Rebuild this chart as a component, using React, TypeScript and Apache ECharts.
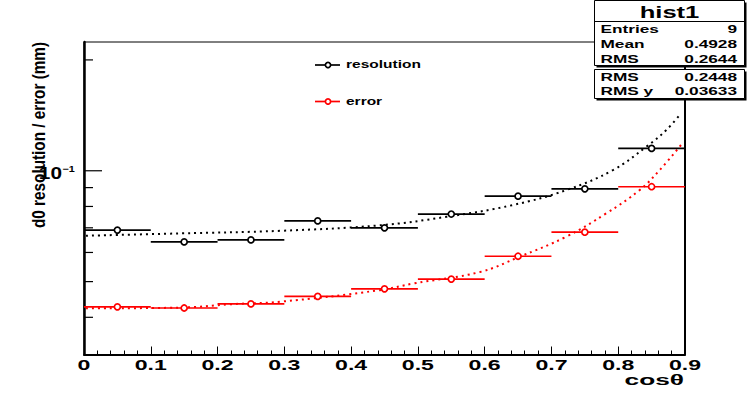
import React, { useEffect, useRef } from 'react';
import * as echarts from 'echarts';

// ---------- data ----------
const BIN_WIDTH = 0.1;
const BIN_CENTERS = [0.05, 0.15, 0.25, 0.35, 0.45, 0.55, 0.65, 0.75, 0.85];
const RESOLUTION = [0.069, 0.0641, 0.0649, 0.0731, 0.07, 0.0763, 0.0853, 0.0893, 0.115];
const ERROR = [0.0427, 0.0424, 0.0435, 0.0456, 0.0478, 0.0508, 0.0586, 0.0681, 0.0905];

const RES_FIT_X = [0.003, 0.144, 0.294, 0.443, 0.543, 0.642, 0.722, 0.792, 0.842, 0.872, 0.894];
const RES_FIT_Y = [0.0666, 0.0676, 0.0687, 0.0711, 0.075, 0.0807, 0.0886, 0.1004, 0.1162, 0.129, 0.1432];
const ERR_FIT_X = [0.003, 0.144, 0.219, 0.294, 0.443, 0.493, 0.593, 0.652, 0.722, 0.782, 0.832, 0.862, 0.894];
const ERR_FIT_Y = [0.0423, 0.0425, 0.0434, 0.0441, 0.0474, 0.0494, 0.0531, 0.0584, 0.0662, 0.0766, 0.0886, 0.1004, 0.1175];

const X_MIN = 0;
const X_MAX = 0.9;
const X_TICKS = [0, 0.1, 0.2, 0.3, 0.4, 0.5, 0.6, 0.7, 0.8, 0.9];
const X_LABELS = ['0', '0.1', '0.2', '0.3', '0.4', '0.5', '0.6', '0.7', '0.8', '0.9'];

const Y_MIN = 0.0317;
const Y_MAX = 0.2237;
const Y_TICKS = [0.04, 0.05, 0.06, 0.07, 0.08, 0.09, 0.1, 0.2];
const Y_MAJOR = [0.1];

const STATS_TITLE = 'hist1';
const STATS_ROWS_1 = [
  ['Entries', '9'],
  ['Mean', '0.4928'],
  ['RMS', '0.2644'],
];
const STATS_ROWS_2 = [
  ['RMS', '0.2448'],
  ['RMS y', '0.03633'],
];
const LEGEND = [
  { name: 'resolution', color: '#000000' },
  { name: 'error', color: '#ff0000' },
];

// ---------- styles ----------
const FONT = '"Liberation Sans", Arial, Helvetica, sans-serif';
const SX = 1.55;

function txt(text: string, x: number, y: number, size: number, align: string, opts: any = {}) {
  return {
    type: 'text',
    x,
    y,
    scaleX: opts.scaleX ?? SX,
    scaleY: opts.scaleY ?? 1,
    rotation: opts.rotation ?? 0,
    z: 100,
    style: {
      text,
      font: `${opts.weight ?? 'bold'} ${size}px ${FONT}`,
      fill: opts.color ?? '#000',
      align,
      textAlign: align,
      verticalAlign: 'middle',
      textVerticalAlign: 'middle',
    },
  };
}

function histSeries(name: string, values: number[], color: string) {
  return {
    name,
    type: 'custom',
    coordinateSystem: 'cartesian2d',
    data: BIN_CENTERS.map((x, i) => [x, values[i]]),
    encode: { x: 0, y: 1 },
    z: 5,
    renderItem: (params: any, api: any) => {
      const x = api.value(0);
      const y = api.value(1);
      const c = api.coord([x, y]);
      const l = api.coord([x - BIN_WIDTH / 2, y]);
      const r = api.coord([x + BIN_WIDTH / 2, y]);
      return {
        type: 'group',
        children: [
          { type: 'line', shape: { x1: l[0], y1: l[1], x2: r[0], y2: r[1] }, style: { stroke: color, lineWidth: 1.7 } },
          { type: 'circle', shape: { cx: c[0], cy: c[1], r: 3 }, style: { fill: '#fff', stroke: color, lineWidth: 1.7 } },
        ],
      };
    },
  };
}

function fitSeries(name: string, xs: number[], ys: number[], color: string) {
  return {
    name,
    type: 'line',
    data: xs.map((x, i) => [x, ys[i]]),
    smooth: 0.4,
    showSymbol: false,
    symbol: 'none',
    z: 4,
    lineStyle: { color, width: 2, type: [2, 4] },
  };
}

function buildOption() {
  const graphics: any[] = [];

  // y-axis title
  graphics.push(
    txt('d0 resolution / error (mm)', 38.5, 42, 15.3, 'right', {
      weight: 'bold',
      scaleX: 1,
      scaleY: 1.15,
      rotation: Math.PI / 2,
    })
  );
  // x-axis title
  graphics.push(txt('cosθ', 684, 380, 15, 'right', { scaleX: 1.75 }));

  // legend
  LEGEND.forEach((it, i) => {
    const y = 65 + i * 36.5;
    graphics.push({ type: 'line', z: 100, shape: { x1: 315, y1: y, x2: 340, y2: y }, style: { stroke: it.color, lineWidth: 1.7 } });
    graphics.push({ type: 'circle', z: 101, shape: { cx: 328, cy: y, r: 2.6 }, style: { fill: '#fff', stroke: it.color, lineWidth: 1.7 } });
    graphics.push(txt(it.name, 346, y, 10, 'left'));
  });

  // stats boxes
  const bx = 594.5;
  const bw = 150;
  const boxes = [
    { y: 0.5, h: 65 },
    { y: 69.5, h: 29 },
  ];
  boxes.forEach((b) => {
    graphics.push({ type: 'rect', z: 90, shape: { x: bx + 2, y: b.y + 2, width: bw, height: b.h }, style: { fill: '#000' } });
    graphics.push({ type: 'rect', z: 91, shape: { x: bx, y: b.y, width: bw, height: b.h }, style: { fill: '#fff', stroke: '#000', lineWidth: 1 } });
  });
  graphics.push({ type: 'line', z: 92, shape: { x1: bx, y1: 21.5, x2: bx + bw, y2: 21.5 }, style: { stroke: '#000', lineWidth: 1 } });
  graphics.push(txt(STATS_TITLE, bx + bw / 2, 12.5, 16, 'center', { scaleX: 1.6 }));
  const rows1Y = [29.3, 44, 58.6];
  STATS_ROWS_1.forEach((r, i) => {
    graphics.push(txt(r[0], 600.5, rows1Y[i], 11.5, 'left', { scaleX: 1.5 }));
    graphics.push(txt(r[1], 737, rows1Y[i], 11.5, 'right', { scaleX: 1.5 }));
  });
  const rows2Y = [77, 91];
  STATS_ROWS_2.forEach((r, i) => {
    graphics.push(txt(r[0], 600.5, rows2Y[i], 11.5, 'left', { scaleX: 1.5 }));
    graphics.push(txt(r[1], 737, rows2Y[i], 11.5, 'right', { scaleX: 1.5 }));
  });

  return {
    animation: false,
    backgroundColor: '#ffffff',
    grid: { left: 84, right: 69, top: 42, bottom: 43.5, show: true, borderColor: '#000', borderWidth: 1, backgroundColor: 'transparent' },
    xAxis: {
      type: 'value',
      min: X_MIN,
      max: X_MAX,
      interval: 0.1,
      axisLine: { show: true, onZero: false, lineStyle: { color: '#000', width: 2 } },
      axisTick: { show: true, inside: true, length: 8, lineStyle: { color: '#000', width: 1 } },
      minorTick: { show: true, splitNumber: 5, length: 4, lineStyle: { color: '#000', width: 1 } },
      axisLabel: { show: false },
      splitLine: { show: false },
    },
    yAxis: [
      {
        type: 'log',
        logBase: 10,
        min: Y_MIN,
        max: Y_MAX,
        axisLine: { show: true, onZero: false, lineStyle: { color: '#000', width: 2.5 } },
        axisTick: { show: false },
        minorTick: { show: false },
        axisLabel: { show: false },
        splitLine: { show: false },
      },
      {
        type: 'value',
        position: 'right',
        axisLine: { show: true, onZero: false, lineStyle: { color: '#000', width: 2 } },
        axisTick: { show: false },
        axisLabel: { show: false },
        splitLine: { show: false },
      },
    ],
    series: [
      // y ticks
      {
        type: 'custom',
        coordinateSystem: 'cartesian2d',
        data: Y_TICKS.map((v) => [X_MIN, v]),
        encode: { x: 0, y: 1 },
        z: 3,
        silent: true,
        renderItem: (params: any, api: any) => {
          const v = api.value(1);
          const p = api.coord([X_MIN, v]);
          const major = Y_MAJOR.some((m) => Math.abs(m - v) < 1e-9);
          const len = major ? 18 : 9;
          return { type: 'line', shape: { x1: p[0], y1: p[1], x2: p[0] + len, y2: p[1] }, style: { stroke: '#000', lineWidth: 1.2 } };
        },
      },
      // y major labels (10^-1)
      {
        type: 'custom',
        coordinateSystem: 'cartesian2d',
        data: Y_MAJOR.map((v) => [X_MIN, v]),
        encode: { x: 0, y: 1 },
        z: 3,
        silent: true,
        renderItem: (params: any, api: any) => {
          const v = api.value(1);
          const p = api.coord([X_MIN, v]);
          const exp = Math.round(Math.log10(v));
          const mk = (text: string, x: number, y: number, size: number, align: string, sx: number) => ({
            type: 'text',
            x,
            y,
            scaleX: sx,
            style: { text, font: `bold ${size}px ${FONT}`, fill: '#000', align, textAlign: align, verticalAlign: 'middle', textVerticalAlign: 'middle' },
          });
          return {
            type: 'group',
            children: [
              mk('10', p[0] - 22, p[1] + 2.5, 16, 'right', 1.3),
              mk(String(exp).replace('-', '−'), p[0] - 21.5, p[1] - 1.5, 9, 'left', 1.2),
            ],
          };
        },
      },
      // x labels
      {
        type: 'custom',
        coordinateSystem: 'cartesian2d',
        data: X_TICKS.map((v, i) => [v, Y_MIN, i]),
        encode: { x: 0, y: 1 },
        z: 3,
        silent: true,
        renderItem: (params: any, api: any) => {
          const v = api.value(0);
          const idx = api.value(2);
          const p = api.coord([v, Y_MIN]);
          return {
            type: 'text',
            x: p[0],
            y: p[1] + 11,
            scaleX: 1.65,
            style: { text: X_LABELS[idx], font: `bold 14px ${FONT}`, fill: '#000', align: 'center', textAlign: 'center', verticalAlign: 'middle', textVerticalAlign: 'middle' },
          };
        },
      },
      histSeries('resolution', RESOLUTION, '#000000'),
      histSeries('error', ERROR, '#ff0000'),
      fitSeries('resolution fit', RES_FIT_X, RES_FIT_Y, '#000000'),
      fitSeries('error fit', ERR_FIT_X, ERR_FIT_Y, '#ff0000'),
    ],
    graphic: graphics,
  };
}

export default function App() {
  const ref = useRef<HTMLDivElement>(null);
  useEffect(() => {
    if (!ref.current) return;
    const chart = echarts.init(ref.current, null, { renderer: 'svg' });
    chart.setOption(buildOption() as any);
    return () => chart.dispose();
  }, []);
  return (
    <div
      ref={ref}
      style={{ position: 'absolute', left: 0, top: 0, width: 754, height: 398, background: '#fff' }}
    />
  );
}
